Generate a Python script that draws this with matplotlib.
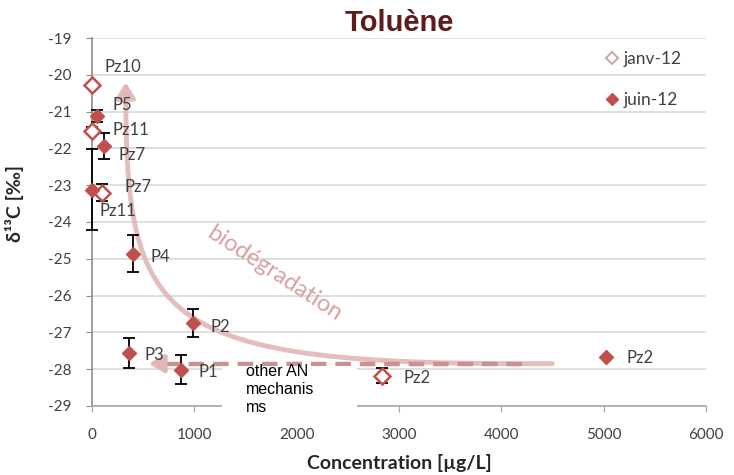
import matplotlib
matplotlib.use("Agg")
import matplotlib.pyplot as plt
from matplotlib.patches import FancyArrowPatch, Rectangle
from matplotlib.path import Path
from matplotlib.lines import Line2D

plt.rcParams['font.family'] = ['Lato', 'DejaVu Sans']
plt.rcParams['axes.unicode_minus'] = False

# January 2012 campaign (open diamonds)
jan_names = ["Pz10", "Pz11", "Pz7", "Pz2"]
jan_conc = [0, 0, 100, 2830]
jan_d13c = [-20.28, -21.52, -23.2, -28.18]
jan_err = [0.05, 0.1, 0.22, 0.2]

# June 2012 campaign (filled diamonds)
jun_names = ["P5", "Pz7", "Pz11", "P4", "P2", "P3", "P1", "Pz2"]
jun_conc = [50, 117, 0, 400, 986, 361, 869, 5020]
jun_d13c = [-21.12, -21.93, -23.12, -24.86, -26.74, -27.56, -28.01, -27.67]
jun_err = [0.16, 0.35, 1.09, 0.5, 0.38, 0.4, 0.4, 0.0]

# label offsets in pixels (left edge, vertical centre)
jan_offsets = [(13, 18), (21, 1), (22, 6), (22, -2)]
jun_offsets = [(15, 11), (15, -9), (8, -21), (18, -3), (18, -4), (16, -2), (18, -2), (21, -1)]

red = "#c0504d"
pink = "#e2b6b6"
pink_dark = "#cc9090"
text_grey = "#404040"

fig = plt.figure(figsize=(7.34, 4.75), dpi=100)
ax = fig.add_axes([0.1253, 0.1453, 0.8366, 0.7747])

ax.set_xlim(0, 6000)
ax.set_ylim(-29, -19)
ax.set_xticks(range(0, 6001, 1000))
ax.set_yticks(range(-29, -18))
ax.yaxis.grid(True, color="#d9d9d9", lw=1.2)
ax.set_axisbelow(True)
for s in ["top", "right"]:
    ax.spines[s].set_visible(False)
ax.spines["left"].set_color("#8c8c8c")
ax.spines["bottom"].set_color("#a6a6a6")
ax.spines["left"].set_linewidth(1.2)
ax.spines["bottom"].set_linewidth(1.2)
ax.tick_params(axis="y", length=4, color="#8c8c8c", pad=11, labelsize=11, labelcolor=text_grey)
ax.tick_params(axis="x", length=4, color="#a6a6a6", pad=12, labelsize=11, labelcolor=text_grey)

# biodegradation curve arrow
verts = [(4500, -27.85), (600, -27.9), (330, -26.8), (330, -20.2)]
codes = [Path.MOVETO, Path.CURVE4, Path.CURVE4, Path.CURVE4]
curve = FancyArrowPatch(path=Path(verts, codes), arrowstyle="-|>,head_length=0.45,head_width=0.28",
                        mutation_scale=20, lw=3.5, color=pink, alpha=0.9, zorder=1.5)
ax.add_patch(curve)

# dashed arrow for the other mechanisms
ax.plot([4200, 640], [-27.85, -27.85], color=pink_dark, lw=3.2, dashes=(3.5, 2.0),
        solid_capstyle="butt", zorder=1.6)
ax.annotate("", xy=(530, -27.85), xytext=(700, -27.85),
            arrowprops=dict(arrowstyle="-|>,head_length=0.5,head_width=0.3", color=pink,
                            lw=3, mutation_scale=18), zorder=1.6)

ax.text(1780, -25.4, "biodégradation", color="#d9a0a0", fontsize=17, rotation=-33,
        rotation_mode="anchor", ha="center", va="center", zorder=1.7)

ax.errorbar(jan_conc, jan_d13c, yerr=jan_err, fmt="none", ecolor="black", elinewidth=1.3,
            capsize=4, capthick=1.3, zorder=3, clip_on=False)
ax.errorbar(jun_conc, jun_d13c, yerr=jun_err, fmt="none", ecolor="black", elinewidth=1.3,
            capsize=4, capthick=1.3, zorder=3, clip_on=False)
ax.plot(jan_conc, jan_d13c, "D", ms=8, mfc="white", mec=red, mew=1.8, ls="none", zorder=4,
        clip_on=False)
ax.plot(jun_conc, jun_d13c, "D", ms=7.5, mfc=red, mec=red, ls="none", zorder=4, clip_on=False)

for name, x, y, off in zip(jan_names, jan_conc, jan_d13c, jan_offsets):
    ax.annotate(name, (x, y), xytext=off, textcoords="offset pixels", ha="left", va="center",
                fontsize=12, color=text_grey, zorder=5)
for name, x, y, off in zip(jun_names, jun_conc, jun_d13c, jun_offsets):
    ax.annotate(name, (x, y), xytext=off, textcoords="offset pixels", ha="left", va="center",
                fontsize=12, color=text_grey, zorder=5)

# white box behind the note on the axis
ax.add_patch(Rectangle((1270, -29.5), 1318, 1.59, transform=ax.transData, facecolor="white",
                       edgecolor="none", clip_on=False, zorder=6))
ax.text(1504, -27.86, "other AN\nmechanis\nms", fontsize=11.5, family=["Liberation Sans"],
        color="black", ha="left", va="top", linespacing=1.25, zorder=7)

handles = [Line2D([], [], marker="D", ls="none", ms=6, mfc="white", mec="#c9a0a0", mew=1.3),
           Line2D([], [], marker="D", ls="none", ms=6, mfc=red, mec=red)]
ax.legend(handles, ["janv-12", "juin-12"], loc="upper left", bbox_to_anchor=(0.832, 0.965),
          frameon=False, fontsize=12.5, handlelength=1.0, handletextpad=0.2, labelspacing=1.45,
          borderpad=0, borderaxespad=0, labelcolor=text_grey)

ax.set_title("Toluène", fontsize=21, fontweight="bold", color="#5e1c1c",
             family=["Liberation Sans"], pad=5)
ax.set_xlabel("Concentration [µg/L]", fontsize=14, fontweight="bold", color="#262626",
              va="center")
ax.set_ylabel("δ¹³C [‰]", fontsize=14, fontweight="bold", color="#262626")
ax.xaxis.set_label_coords(0.5, -0.155)
ax.yaxis.set_label_coords(-0.11, 0.55)

fig.savefig("out.png", dpi=100)
